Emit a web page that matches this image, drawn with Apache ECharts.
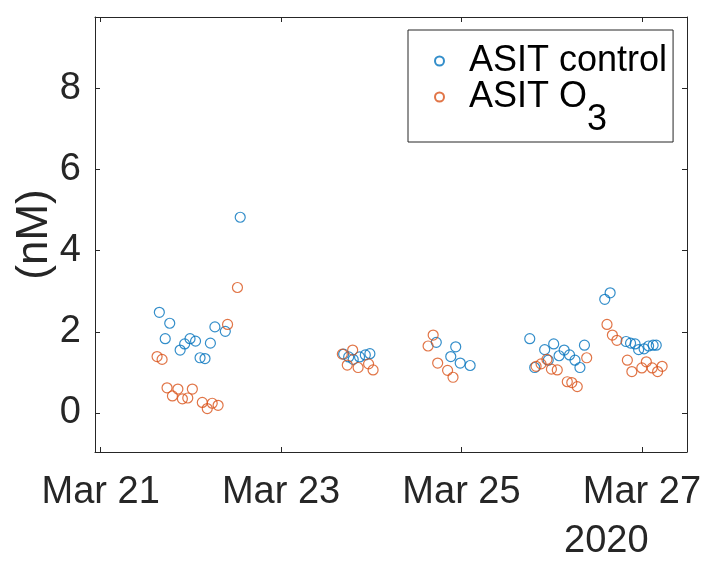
<!DOCTYPE html>
<html>
<head>
<meta charset="utf-8">
<script src="https://cdn.jsdelivr.net/npm/echarts@6/dist/echarts.min.js"></script>
<style>
html,body{margin:0;padding:0;background:#fff;}
#chart{width:709px;height:565px;}
</style>
</head>
<body>
<div id="chart"></div>
<script>
// ---- data ----
var controlTimes = [
  '2020-03-21 15:37','2020-03-21 17:11','2020-03-21 18:23','2020-03-21 21:09','2020-03-21 22:21','2020-03-21 23:47',
  '2020-03-22 01:15','2020-03-22 02:27','2020-03-22 03:46','2020-03-22 05:12','2020-03-22 06:24','2020-03-22 09:10','2020-03-22 13:08',
  '2020-03-23 16:39','2020-03-23 17:59','2020-03-23 19:12','2020-03-23 20:53','2020-03-23 22:25','2020-03-23 23:38',
  '2020-03-24 17:18','2020-03-24 21:09','2020-03-24 22:28','2020-03-24 23:40','2020-03-25 02:18',
  '2020-03-25 18:10','2020-03-25 19:29','2020-03-25 22:08','2020-03-25 23:05','2020-03-26 00:32','2020-03-26 01:58',
  '2020-03-26 03:19','2020-03-26 04:45','2020-03-26 06:12','2020-03-26 07:31','2020-03-26 08:43',
  '2020-03-26 14:07','2020-03-26 15:33','2020-03-26 19:47','2020-03-26 20:59','2020-03-26 22:11','2020-03-26 23:08',
  '2020-03-27 00:35','2020-03-27 01:47','2020-03-27 02:59','2020-03-27 03:49'
];
var controlValues = [
  2.48,1.83,2.21,1.55,1.70,1.83,
  1.77,1.36,1.34,1.72,2.12,2.01,4.82,
  1.45,1.38,1.32,1.38,1.43,1.46,
  1.74,1.39,1.63,1.23,1.17,
  1.83,1.12,1.56,1.30,1.70,1.41,
  1.55,1.43,1.30,1.12,1.67,
  2.80,2.96,1.76,1.72,1.70,1.56,
  1.58,1.65,1.67,1.67
];
var ozoneTimes = [
  '2020-03-21 15:01','2020-03-21 16:21','2020-03-21 17:40','2020-03-21 19:06','2020-03-21 20:33','2020-03-21 21:45','2020-03-21 23:11',
  '2020-03-22 00:24','2020-03-22 03:03','2020-03-22 04:22','2020-03-22 05:41','2020-03-22 07:15','2020-03-22 09:46','2020-03-22 12:24',
  '2020-03-23 16:18','2020-03-23 17:37','2020-03-23 19:03','2020-03-23 20:30','2020-03-23 23:17','2020-03-24 00:29',
  '2020-03-24 15:07','2020-03-24 16:28','2020-03-24 17:40','2020-03-24 20:18','2020-03-24 21:45',
  '2020-03-25 19:51','2020-03-25 21:10','2020-03-25 22:44','2020-03-25 23:56','2020-03-26 01:29',
  '2020-03-26 04:09','2020-03-26 05:21','2020-03-26 06:48','2020-03-26 09:19',
  '2020-03-26 14:43','2020-03-26 16:09','2020-03-26 17:21','2020-03-26 20:08','2020-03-26 21:20','2020-03-26 23:59',
  '2020-03-27 01:11','2020-03-27 02:44','2020-03-27 04:11','2020-03-27 05:23'
];
var ozoneValues = [
  1.39,1.32,0.62,0.42,0.59,0.35,0.37,
  0.59,0.26,0.11,0.24,0.19,2.18,3.09,
  1.45,1.18,1.55,1.12,1.21,1.06,
  1.65,1.92,1.23,1.05,0.88,
  1.15,1.21,1.32,1.08,1.06,
  0.77,0.75,0.65,1.36,
  2.18,1.92,1.79,1.30,1.02,1.11,
  1.26,1.11,1.02,1.15
];
var seriesNames = ['ASIT control', 'ASIT O3'];
var xTickDates = ['2020-03-21','2020-03-23','2020-03-25','2020-03-27'];
var xTickLabels = ['Mar 21','Mar 23','Mar 25','Mar 27'];
var yTicks = [0, 2, 4, 6, 8];
var yLabel = '(nM)';
var yearLabel = '2020';

// ---- helpers ----
function parseT(s) {
  var p = s.split(' ');
  var d = p[0].split('-');
  var hm = (p[1] || '00:00').split(':');
  return new Date(+d[0], +d[1] - 1, +d[2], +hm[0], +hm[1]).getTime();
}
function pairs(ts, vs) { return ts.map(function (t, i) { return [parseT(t), vs[i]]; }); }

var xTickVals = xTickDates.map(parseT);
var xMin = parseT('2020-03-20 22:30');
var xMax = parseT('2020-03-27 12:00');
var TXT = '#262626';
var FONT = 'Liberation Sans, Arial, sans-serif';
var BLUE = '#0072BD', ORANGE = '#D95319';

var chart = echarts.init(document.getElementById('chart'), null, {renderer: 'canvas'});

function xAx(pos, showLabel) {
  return {
    type: 'value', position: pos, min: xMin, max: xMax,
    axisLine: {show: true, onZero: false, lineStyle: {color: TXT, width: 1}},
    axisTick: {show: true, inside: true, length: 5, customValues: xTickVals, lineStyle: {color: TXT}},
    axisLabel: {show: showLabel, customValues: xTickVals, margin: 22, color: TXT,
      fontSize: 38, fontFamily: FONT,
      formatter: function (v) {
        var i = xTickVals.indexOf(v);
        return i >= 0 ? xTickLabels[i] : '';
      }},
    splitLine: {show: false}
  };
}
function yAx(pos, showLabel) {
  var a = {
    type: 'value', position: pos, min: -0.96, max: 9.75,
    axisLine: {show: true, onZero: false, lineStyle: {color: TXT, width: 1}},
    axisTick: {show: true, inside: true, length: 5, customValues: yTicks, lineStyle: {color: TXT}},
    axisLabel: {show: showLabel, customValues: yTicks, margin: 14, color: TXT, fontSize: 38, fontFamily: FONT},
    splitLine: {show: false}
  };
  if (showLabel) {
    a.name = yLabel; a.nameLocation = 'middle'; a.nameRotate = 90; a.nameGap = 38;
    a.nameMoveOverlap = false;
    a.nameTextStyle = {color: TXT, fontSize: 44, fontFamily: FONT};
  }
  return a;
}

function scatter(name, data, color) {
  return {
    name: name, type: 'scatter', data: data, symbol: 'circle', symbolSize: 10,
    itemStyle: {color: 'rgba(255,255,255,0)', borderColor: color, borderWidth: 1.2},
    emphasis: {disabled: true}
  };
}

chart.setOption({
  animation: false,
  backgroundColor: '#fff',
  grid: {left: 95, right: 22, top: 17, bottom: 113, containLabel: false, outerBoundsMode: 'none'},
  xAxis: [xAx('bottom', true), xAx('top', false)],
  yAxis: [yAx('left', true), yAx('right', false)],
  legend: {
    orient: 'vertical', left: 408, top: 30,
    padding: [13, 6, 4, 26], itemGap: 0,
    itemWidth: 9, itemHeight: 9, itemTextGap: 5,
    backgroundColor: '#fff', borderColor: TXT, borderWidth: 1,
    data: seriesNames.map(function (n) { return {name: n, icon: 'circle'}; }),
    textStyle: {color: '#000', fontSize: 36, fontFamily: FONT, padding: [0, 0, 0, 20],
      rich: {sub: {fontSize: 36, fontFamily: FONT, color: '#000', padding: [46, 0, 0, 0]}}},
    formatter: function (n) { return n === 'ASIT O3' ? 'ASIT O{sub|3}' : n; },
    selectedMode: false
  },
  series: [
    scatter(seriesNames[0], pairs(controlTimes, controlValues), BLUE),
    scatter(seriesNames[1], pairs(ozoneTimes, ozoneValues), ORANGE)
  ],
  graphic: [{
    type: 'text', left: 564, top: 523,
    style: {text: yearLabel, fill: TXT, font: '38px ' + FONT}
  }]
});
</script>
</body>
</html>
